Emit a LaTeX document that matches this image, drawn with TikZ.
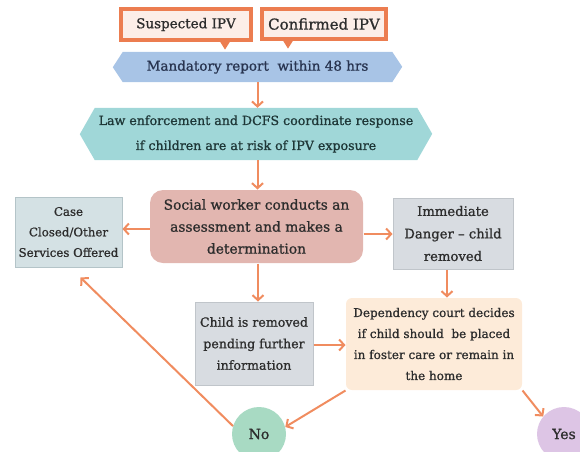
\documentclass[tikz,border=0pt]{standalone}
\usepackage{fontspec}
\setmainfont{DejaVu Serif}[FakeBold=1]
\usetikzlibrary{arrows.meta,backgrounds,calc}
\definecolor{arrcol}{RGB}{240,140,95}
\definecolor{calbord}{RGB}{236,125,80}
\definecolor{calfill}{RGB}{252,238,232}
\definecolor{mandfill}{RGB}{168,196,230}
\definecolor{mandtext}{RGB}{40,52,80}
\definecolor{lawfill}{RGB}{160,215,216}
\definecolor{lawtext}{RGB}{30,55,55}
\definecolor{socfill}{RGB}{226,182,176}
\definecolor{casefill}{RGB}{212,225,228}
\definecolor{casebord}{RGB}{180,196,200}
\definecolor{greyfill}{RGB}{216,220,225}
\definecolor{greybord}{RGB}{192,197,202}
\definecolor{depfill}{RGB}{253,235,217}
\definecolor{nofill}{RGB}{168,218,195}
\definecolor{yesfill}{RGB}{221,197,229}
\definecolor{txt}{RGB}{45,45,45}
\begin{document}
\begin{tikzpicture}[x=1pt,y=-1pt,
  every node/.style={text=txt, inner sep=2pt},
  callout/.style={draw=calbord, line width=3.2pt, fill=calfill},
  banner/.style={align=center},
  box/.style={align=center, line width=1pt},
  arr/.style={draw=arrcol, line width=2pt, -{Straight Barb[length=5pt,width=11pt]}},
  circ/.style={circle, minimum size=54pt, font=\fontsize{14}{16}\selectfont}]
\useasboundingbox (0,0) rectangle (580,451);

% callouts
\node[callout, minimum width=130pt, minimum height=31pt, font=\fontsize{13.5}{16}\selectfont] (susp) at (186,24.5) {Suspected IPV};
\node[callout, minimum width=124pt, minimum height=30pt, font=\fontsize{15}{17}\selectfont] (conf) at (324,24) {Confirmed IPV};
\fill[calbord] ($(susp.south)+(34,0)$) -- ($(susp.south)+(44,0)$) -- ($(susp.south)+(39,8)$) -- cycle;
\fill[calbord] ($(conf.south)+(-41,0)$) -- ($(conf.south)+(-31,0)$) -- ($(conf.south)+(-36,8)$) -- cycle;

% banners
\node[banner, text=mandtext, minimum width=269pt, minimum height=30pt, font=\fontsize{13.5}{16}\selectfont] (mand) at (257.5,67) {Mandatory report\ \ within 48 hrs};
\node[banner, text=lawtext, minimum width=322pt, minimum height=52pt, font=\fontsize{12.6}{25}\selectfont] (law) at (256,134)
  {Law enforcement and DCFS coordinate response\\ if children are at risk of IPV exposure};
\begin{scope}[on background layer]
\fill[mandfill] (mand.north west) -- (mand.north east) -- ++(10,15) -- (mand.south east)
  -- (mand.south west) -- ++(-10,-15) -- cycle;
\fill[lawfill] (law.north west) -- (law.north east) -- ++(15,26) -- (law.south east)
  -- (law.south west) -- ++(-15,-26) -- cycle;
\end{scope}

% boxes
\node[box, fill=socfill, rounded corners=13pt, minimum width=213pt, minimum height=73pt,
  font=\fontsize{13.8}{22}\selectfont] (soc) at (256.5,226.5)
  {Social worker conducts an\\ assessment and makes a\\ determination};
\node[box, draw=casebord, fill=casefill, minimum width=107pt, minimum height=70pt,
  font=\fontsize{11.8}{20.5}\selectfont] (case) at (68.5,232)
  {Case\\ Closed/Other\\ Services Offered};
\node[box, draw=greybord, fill=greyfill, minimum width=120pt, minimum height=71pt,
  font=\fontsize{13.2}{22.5}\selectfont] (imm) at (453,233.5)
  {Immediate\\ Danger -- child\\ removed};
\node[box, draw=greybord, fill=greyfill, minimum width=118pt, minimum height=83pt,
  font=\fontsize{12.6}{21.5}\selectfont] (child) at (254,343.5)
  {Child is removed\\ pending further\\ information};
\node[box, fill=depfill, rounded corners=6pt, minimum width=176pt, minimum height=92pt,
  font=\fontsize{12}{21}\selectfont] (dep) at (434,344)
  {Dependency court decides\\ if child should\ \ be placed\\ in foster care or remain in\\ the home};
\node[circ, fill=nofill] (no) at (259,434) {No};
\node[circ, fill=yesfill] (yes) at (564,434) {Yes};

% connectors
\draw[arr] (mand.south) -- (mand.south |- law.north);
\draw[arr] ([xshift=1.5pt]law.south) -- ([xshift=1.5pt]law.south |- soc.north);
\draw[arr] ([yshift=-2.5pt]soc.west) -- ([yshift=-2.5pt]soc.west -| case.east);
\draw[arr] ([yshift=-7.5pt]soc.east) -- ([yshift=-7.5pt]soc.east -| imm.west);
\draw[arr] ([xshift=-6pt]imm.south) -- ([xshift=-6pt]imm.south |- dep.north);
\draw[arr] ([xshift=1.5pt]soc.south) -- ([xshift=1.5pt]soc.south |- child.north);
\draw[arr] ([yshift=-1.5pt]child.east) -- ([yshift=-1.5pt]child.east -| dep.west);
\draw[arr] (dep.south west) -- (no.15);
\draw[arr] (dep.south east) -- (yes.140);
\draw[arr] (no.163) -- ($(case.south)+(12,10)$);
\end{tikzpicture}
\end{document}
